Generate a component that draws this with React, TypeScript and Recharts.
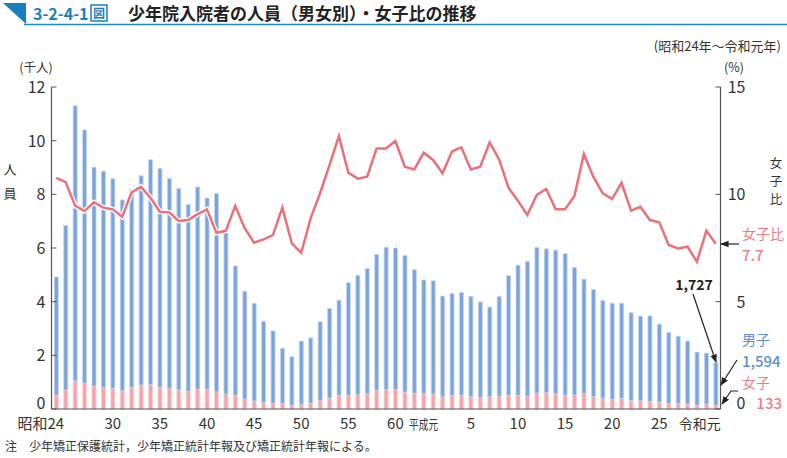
import { ComposedChart, Bar, Line, XAxis, YAxis } from 'recharts';

const YEARS = [
  '昭和24', '25', '26', '27', '28', '29', '30', '31', '32', '33', '34', '35', '36', '37', '38', '39',
  '40', '41', '42', '43', '44', '45', '46', '47', '48', '49', '50', '51', '52', '53', '54', '55',
  '56', '57', '58', '59', '60', '61', '62', '63', '平成元', 'H2', 'H3', 'H4', 'H5', 'H6', 'H7', 'H8',
  'H9', 'H10', 'H11', 'H12', 'H13', 'H14', 'H15', 'H16', 'H17', 'H18', 'H19', 'H20', 'H21', 'H22',
  'H23', 'H24', 'H25', 'H26', 'H27', 'H28', 'H29', 'H30', '令和元',
];

// thousands of persons
const MALE = [
  4.40, 6.13, 10.25, 9.44, 8.15, 8.05, 7.81, 7.11, 7.38, 7.80, 8.37, 8.15, 7.82, 7.51, 6.96, 7.53,
  7.13, 7.39, 6.04, 4.82, 4.02, 3.64, 3.02, 2.70, 2.05, 1.81, 2.35, 2.43, 2.94, 3.34, 3.54, 4.20,
  4.44, 4.67, 5.06, 5.30, 5.27, 5.09, 4.61, 4.23, 4.22, 3.75, 3.79, 3.82, 3.74, 3.56, 3.34, 3.72,
  4.46, 4.85, 5.02, 5.44, 5.36, 5.36, 5.27, 4.75, 4.26, 3.99, 3.64, 3.58, 3.54, 3.28, 3.15, 3.19,
  2.90, 2.64, 2.51, 2.34, 1.98, 1.90, 1.594,
];

const FEMALE = [
  0.52, 0.71, 1.05, 0.96, 0.86, 0.81, 0.77, 0.68, 0.81, 0.89, 0.92, 0.81, 0.77, 0.71, 0.66, 0.74,
  0.73, 0.64, 0.55, 0.51, 0.37, 0.30, 0.25, 0.21, 0.21, 0.14, 0.18, 0.22, 0.31, 0.41, 0.51, 0.51,
  0.54, 0.56, 0.70, 0.73, 0.73, 0.63, 0.58, 0.58, 0.56, 0.46, 0.51, 0.52, 0.46, 0.43, 0.46, 0.47,
  0.51, 0.51, 0.48, 0.58, 0.61, 0.56, 0.52, 0.52, 0.58, 0.46, 0.40, 0.36, 0.40, 0.31, 0.31, 0.28,
  0.26, 0.21, 0.20, 0.19, 0.14, 0.18, 0.133,
];

// female ratio (%)
const RATIO = [
  10.77, 10.57, 9.47, 9.22, 9.63, 9.38, 9.30, 8.96, 10.09, 10.35, 9.84, 9.19, 9.16, 8.76, 8.80, 9.08,
  9.30, 8.21, 8.30, 9.46, 8.42, 7.75, 7.90, 8.10, 9.38, 7.72, 7.28, 8.88, 10.05, 11.36, 12.72, 11.01,
  10.73, 10.82, 12.14, 12.14, 12.48, 11.29, 11.16, 11.94, 11.60, 10.98, 12.00, 12.19, 11.16, 11.29, 12.42, 11.63,
  10.31, 9.70, 9.04, 9.97, 10.25, 9.30, 9.30, 9.92, 11.88, 10.82, 10.05, 9.78, 10.54, 9.24, 9.42, 8.80,
  8.70, 7.64, 7.48, 7.56, 6.86, 8.30, 7.7,
];

const X_TICK_LABELS: Record<string, string> = {
  '昭和24': '昭和24', '30': '30', '35': '35', '40': '40', '45': '45', '50': '50', '55': '55', '60': '60',
  '平成元': '平成元', 'H5': '5', 'H10': '10', 'H15': '15', 'H20': '20', 'H25': '25', '令和元': '令和元',
};

const LEFT_TICKS = [0, 2, 4, 6, 8, 10, 12];
const RIGHT_TICKS = [0, 5, 10, 15];

const FONT = '"Noto Sans CJK JP", "Noto Sans", sans-serif';
const BLUE = '#7ba4dc';
const PINK = '#f4a4aa';
const LINE = '#ec6f7a';
const AXIS = '#555';

const data = YEARS.map((year, i) => ({
  year,
  male: MALE[i],
  female: FEMALE[i],
  ratio: RATIO[i],
}));

function XTick(props: any) {
  const { x, y, payload } = props;
  const label = X_TICK_LABELS[payload.value];
  if (!label) return null;
  const common = { y, dy: 12, fill: '#333', fontFamily: FONT };
  if (label === '昭和24') {
    return <text {...common} x={x + 8} fontSize={15} textAnchor="end">{label}</text>;
  }
  if (label === '平成元') {
    return (
      <text {...common} x={x - 24} fontSize={13} textAnchor="start" textLength={29} lengthAdjust="spacingAndGlyphs">
        {label}
      </text>
    );
  }
  if (label === '令和元') {
    return <text {...common} x={x + 5} fontSize={14} textAnchor="end">{label}</text>;
  }
  return <text {...common} x={x} fontSize={15} textAnchor="middle">{label}</text>;
}

function LeftTick(props: any) {
  const { x, y, payload } = props;
  return (
    <g>
      <line x1={x + 6} x2={x + 11} y1={y} y2={y} stroke={AXIS} strokeWidth={1} />
      <text x={x} y={y} dy={payload.value === 0 ? 0 : 6} textAnchor="end" fontSize={16} fill="#333" fontFamily={FONT}>
        {payload.value}
      </text>
    </g>
  );
}

function RightTick(props: any) {
  const { x, y, payload } = props;
  return (
    <g>
      <line x1={x - 25} x2={x - 30} y1={y} y2={y} stroke={AXIS} strokeWidth={1} />
      <text x={x} y={y} dy={payload.value === 0 ? 0 : 6} textAnchor="end" fontSize={16} fill="#333" fontFamily={FONT}>
        {payload.value}
      </text>
    </g>
  );
}

function Overlay() {
  return (
    <svg width={787} height={458} style={{ position: 'absolute', left: 0, top: 0, pointerEvents: 'none' }} fontFamily={FONT}>
      <defs>
        <marker id="arrow" viewBox="0 0 10 10" refX="9" refY="5" markerWidth="7" markerHeight="7" orient="auto-start-reverse">
          <path d="M0,1 L10,5 L0,9 z" fill="#222" />
        </marker>
      </defs>
      {/* title */}
      <polygon points="3,3 26,3 26,24" fill="#1a7fc1" />
      <line x1={24} x2={787} y1={24.5} y2={24.5} stroke="#1a8ac8" strokeWidth={1.5} />
      <text x={33} y={20} fontSize={16} fontWeight={700} fill="#1a7fc1">3-2-4-1</text>
      <rect x={91} y={5} width={16} height={16} fill="none" stroke="#1a7fc1" strokeWidth={1.5} />
      <text x={99} y={18} fontSize={12} fontWeight={700} fill="#1a7fc1" textAnchor="middle">図</text>
      <text x={128} y={20} fontSize={17} fontWeight={700} fill="#222">少年院入院者の人員（男女別）・女子比の推移</text>
      <text x={781} y={51} fontSize={13} fill="#333" textAnchor="end">(昭和24年～令和元年)</text>

      {/* axis titles */}
      <text x={36} y={72} fontSize={12.5} fill="#333" textAnchor="middle">(千人)</text>
      <text x={734} y={72} fontSize={12.5} fill="#333" textAnchor="middle">(%)</text>
      <text x={10} y={174} fontSize={13} fill="#333" textAnchor="middle">人</text>
      <text x={10} y={198} fontSize={13} fill="#333" textAnchor="middle">員</text>
      <text x={776} y={168} fontSize={12.5} fill="#333" textAnchor="middle">女</text>
      <text x={776} y={186} fontSize={12.5} fill="#333" textAnchor="middle">子</text>
      <text x={776} y={204} fontSize={12.5} fill="#333" textAnchor="middle">比</text>

      {/* annotations */}
      <text x={742} y={239} fontSize={14} fill="#ee7d87">女子比</text>
      <text x={742} y={261} fontSize={15} fill="#ee7d87" fontWeight={500}>7.7</text>
      <line x1={739} y1={244} x2={721} y2={244} stroke="#222" strokeWidth={1.2} markerEnd="url(#arrow)" />

      <text x={694} y={290} fontSize={14} fontWeight={700} fill="#222" textAnchor="middle">1,727</text>
      <line x1={693} y1={294} x2={716} y2={362} stroke="#222" strokeWidth={1.2} markerEnd="url(#arrow)" />

      <text x={742} y={345} fontSize={14} fill="#5a8fd5">男子</text>
      <text x={742} y={367} fontSize={15} fill="#5a8fd5" fontWeight={500}>1,594</text>
      <line x1={737} y1={360} x2={721} y2={385} stroke="#222" strokeWidth={1.2} markerEnd="url(#arrow)" />

      <text x={742} y={388} fontSize={14} fill="#ee7d87">女子</text>
      <text x={782} y={409} fontSize={15} fill="#ee7d87" fontWeight={500} textAnchor="end">133</text>
      <polyline points="738,391 731,391 722,404" fill="none" stroke="#222" strokeWidth={1.2} markerEnd="url(#arrow)" />

      <text x={5} y={451} fontSize={12} fill="#333">注　少年矯正保護統計，少年矯正統計年報及び矯正統計年報による。</text>
    </svg>
  );
}

export default function App() {
  return (
    <div style={{ position: 'absolute', left: 0, top: 0, width: 787, height: 458, background: '#fff' }}>
      <ComposedChart
        width={787}
        height={458}
        data={data}
        margin={{ top: 87, right: 36.5, left: 0, bottom: 19 }}
        barCategoryGap="30%"
      >
        <XAxis
          dataKey="year"
          interval={0}
          tick={<XTick />}
          tickLine={false}
          axisLine={{ stroke: AXIS, strokeWidth: 1.2 }}
          height={30}
        />
        <YAxis
          yAxisId="left"
          domain={[0, 12]}
          ticks={LEFT_TICKS}
          width={51.5}
          tickSize={0}
          tickMargin={6}
          tickLine={false}
          tick={<LeftTick />}
          axisLine={{ stroke: AXIS, strokeWidth: 1.2 }}
        />
        <YAxis
          yAxisId="right"
          orientation="right"
          domain={[0, 15]}
          ticks={RIGHT_TICKS}
          width={30}
          tickSize={0}
          tickMargin={25}
          tickLine={false}
          tick={<RightTick />}
          axisLine={{ stroke: AXIS, strokeWidth: 1.2 }}
        />
        <Bar yAxisId="left" dataKey="female" stackId="a" fill={PINK} stroke="#fbd3d6" strokeWidth={0.8} isAnimationActive={false} />
        <Bar yAxisId="left" dataKey="male" stackId="a" fill={BLUE} stroke="#c3d6f1" strokeWidth={0.8} isAnimationActive={false} />
        <Line yAxisId="right" dataKey="ratio" stroke="#ffffff" strokeWidth={5} dot={false} activeDot={false} isAnimationActive={false} />
        <Line yAxisId="right" dataKey="ratio" stroke={LINE} strokeWidth={2.5} dot={false} activeDot={false} isAnimationActive={false} />
      </ComposedChart>
      <Overlay />
    </div>
  );
}
